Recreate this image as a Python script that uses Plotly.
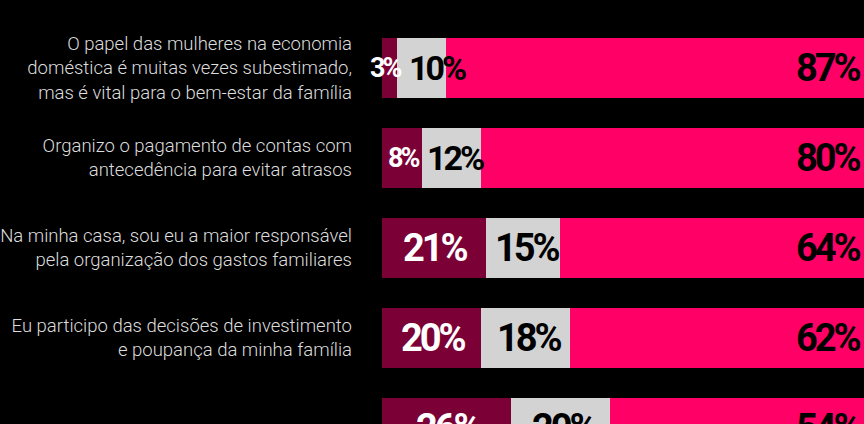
import plotly.graph_objects as go

categories = [
    "O papel das mulheres na economia<br>doméstica é muitas vezes subestimado,<br>mas é vital para o bem-estar da família",
    "Organizo o pagamento de contas com<br>antecedência para evitar atrasos",
    "Na minha casa, sou eu a maior responsável<br>pela organização dos gastos familiares",
    "Eu participo das decisões de investimento<br>e poupança da minha família",
    "Faço o planejamento financeiro<br>da minha casa",
]
discordo = [3, 8, 21, 20, 26]
neutro = [10, 12, 15, 18, 20]
concordo = [87, 80, 64, 62, 54]

C_DARK = "#7b0036"
C_GRAY = "#d3d3d3"
C_PINK = "#ff0066"

ids = list(range(len(categories)))

fig = go.Figure()
fig.add_trace(go.Bar(y=ids, x=discordo, orientation="h", marker_color=C_DARK,
                     marker_line_width=0, name="Discordo", hoverinfo="skip"))
fig.add_trace(go.Bar(y=ids, x=neutro, orientation="h", marker_color=C_GRAY,
                     marker_line_width=0, name="Neutro", hoverinfo="skip"))
fig.add_trace(go.Bar(y=ids, x=concordo, orientation="h", marker_color=C_PINK,
                     marker_line_width=0, name="Concordo", hoverinfo="skip"))

PLOT_W = 864 - 382
X_MAX = 97.4
PX = PLOT_W / X_MAX
BAND = 90  # px per category
Y_TOP = -68 / BAND
LS = 3  # letter spacing px (negative)


def fsize(seg_px):
    if seg_px < 45:
        return 27
    if seg_px < 65:
        return 34
    return 38


def est_w(s, fs):
    n = len(s)
    return fs * (0.55 * (n - 1) + 0.70) - LS * (n - 1)


def lbl(v):
    return f'<span style="letter-spacing:-{LS}px">{v}%</span>'


annotations = []
for i in ids:
    d, n, c = discordo[i], neutro[i], concordo[i]
    fd = fsize(d * PX)
    fn = fsize(n * PX)
    wd = est_w(f"{d}%", fd)
    wn = est_w(f"{n}%", fn)
    seg_d = d * PX
    shift_d = 2
    if wd > seg_d:
        shift_d = 2 - (wd - seg_d) / 2.5
    right_d = d / 2 * PX + shift_d + wd / 2
    cen_n = (d + n / 2) * PX
    shift_n = 4
    if cen_n + shift_n - wn / 2 < right_d + 9:
        shift_n = right_d + 9 - (cen_n - wn / 2)
    common = dict(y=i - 0.5, yref="y", yshift=-BAND / 2, showarrow=False, yanchor="middle")
    annotations.append(dict(x=d / 2, xref="x", text=lbl(d), xanchor="center", xshift=shift_d,
                            font=dict(family="Roboto", size=fd, color="#ffffff", weight=700), **common))
    annotations.append(dict(x=d + n / 2, xref="x", text=lbl(n), xanchor="center", xshift=shift_n,
                            font=dict(family="Roboto", size=fn, color="#000000", weight=700), **common))
    annotations.append(dict(x=1, xref="paper", text=lbl(c), xanchor="right", xshift=-1,
                            font=dict(family="Roboto", size=38, color="#000000", weight=700), **common))

fig.update_layout(
    width=864, height=424,
    paper_bgcolor="#000000", plot_bgcolor="#000000",
    margin=dict(l=382, r=0, t=0, b=0, pad=0),
    barmode="stack", bargap=1 / 3,
    showlegend=False,
    annotations=annotations,
    xaxis=dict(range=[0, X_MAX], visible=False, fixedrange=True),
    yaxis=dict(
        range=[Y_TOP + 424 / BAND, Y_TOP],
        tickmode="array", tickvals=ids, ticktext=categories,
        showgrid=False, zeroline=False, showline=False, ticks="",
        ticklabelstandoff=29,
        tickfont=dict(family="Roboto", size=18.5, color="#dddddd", weight=300),
        fixedrange=True,
    ),
    font=dict(family="Roboto"),
)

fig.write_html("out.html", config={"displayModeBar": False})

with open("out.html", encoding="utf-8") as f:
    html = f.read()
html = html.replace("<head>", "<head><style>html,body{margin:0;padding:0;background:#000;overflow:hidden}</style>", 1)
with open("out.html", "w", encoding="utf-8") as f:
    f.write(html)
